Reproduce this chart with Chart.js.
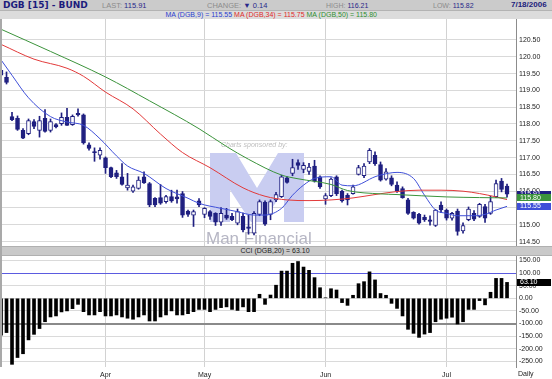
<!DOCTYPE html>
<html>
<head>
<meta charset="utf-8">
<script src="https://cdn.jsdelivr.net/npm/chart.js@4.4.1/dist/chart.umd.min.js"></script>
<style>
  body { margin: 0; width: 552px; height: 379px; background: #fff; overflow: hidden; position: relative; font-family: "Liberation Sans", Arial, sans-serif; }
  .abs { position: absolute; white-space: nowrap; }
  #hdr1 { left: 0; top: 0; width: 552px; height: 11px; background: #cbcbcb; border-bottom: 1px solid #b3b3b3; box-sizing: border-box; }
  #hdr2 { left: 0; top: 11px; width: 552px; height: 8px; background: #dcdcdc; }
  #cciBar { left: 0; top: 246px; width: 552px; height: 10px; background: #c9c9c9; border-top: 1px solid #b0b0b0; border-bottom: 1px solid #b0b0b0; box-sizing: border-box; }
  .lbl { color: #8c8c8c; }
  .val { color: #28288a; }
</style>
</head>
<body>
<div id="hdr1" class="abs"></div>
<div id="hdr2" class="abs"></div>
<div class="abs" style="left:3px;top:0;line-height:11px;font:bold 9px 'DejaVu Sans';color:#1c1c7c">DGB [15] - BUND</div>
<div class="abs" style="left:102px;top:0;line-height:11px;font-size:7.5px"><span class="lbl">LAST:</span> <span class="val">115.91</span></div>
<div class="abs" style="left:207px;top:0;line-height:11px;font-size:7.5px"><span class="lbl">CHANGE:</span> <span class="val">&#9660; 0.14</span></div>
<div class="abs" style="left:326px;top:0;line-height:11px;font-size:7px"><span class="lbl">HIGH:</span> <span class="val">116.21</span></div>
<div class="abs" style="left:433px;top:0;line-height:11px;font-size:7px"><span class="lbl">LOW:</span> <span class="val">115.82</span></div>
<div class="abs" style="left:511px;top:0;line-height:11px;font:bold 8px 'Liberation Sans';color:#1c1c7c">7/18/2006</div>
<div class="abs" style="right:175px;top:11px;line-height:8px;font-size:7px">
  <span style="color:#2b3fd0">MA (DGB,9) = 115.55</span>
  <span style="color:#e02a2a">MA (DGB,34) = 115.75</span>
  <span style="color:#2f8f2f">MA (DGB,50) = 115.80</span>
</div>
<canvas id="priceChart" class="abs" width="552" height="227" style="left:0;top:19px"></canvas>
<div id="cciBar" class="abs"></div>
<div class="abs" style="left:0;width:552px;top:246px;line-height:10px;text-align:center;font-size:7px;color:#222;text-indent:-2px">CCI (DGB,20) = 63.10</div>
<canvas id="cciChart" class="abs" width="552" height="123" style="left:0;top:256px"></canvas>
<div class="abs" style="left:0;top:19px;width:2px;height:348px;background:#a9a9a9"></div>
<div class="abs" style="left:518px;top:370px;font-size:7px;color:#222">Daily</div>

<script>
// daily bars, 8 Mar .. 18 Jul 2006
const opens = [
  119.60, 119.39, 118.22, 118.17, 117.81, 117.71, 118.07, 117.81, 118.17, 117.81,
  117.98, 118.01, 118.20, 117.98, 118.32, 118.27, 117.38, 117.18, 117.07, 116.99,
  116.70, 116.55, 116.43, 116.10, 116.00, 116.08, 116.43, 116.23, 115.79, 115.81,
  115.69, 115.84, 115.83, 115.93, 115.41, 115.29, 115.71, 115.31, 115.39, 115.34,
  115.08, 115.29, 115.25, 115.05, 115.25, 114.94, 114.75, 115.31, 115.67, 115.31,
  115.74, 115.84, 116.40, 116.53, 116.85, 116.65, 116.59, 116.75, 116.43, 115.77,
  115.87, 116.43, 116.00, 115.88, 115.93, 116.50, 116.46, 116.87, 117.07, 116.79,
  116.36, 116.40, 116.18, 116.08, 115.74, 115.37, 115.31, 115.22, 115.15, 114.98,
  115.59, 115.44, 115.20, 115.41, 114.82, 115.15, 115.34, 115.25, 115.54, 115.34,
  115.84, 116.30, 116.15,
];
const highs = [
  119.66, 119.55, 118.35, 118.24, 117.86, 118.15, 118.13, 118.23, 118.43, 118.15,
  118.01, 118.33, 118.47, 118.27, 118.45, 118.30, 117.44, 117.29, 117.29, 117.02,
  116.72, 116.62, 116.82, 116.53, 116.18, 116.43, 116.58, 116.26, 115.81, 116.20,
  115.88, 116.03, 116.03, 115.99, 115.44, 115.44, 115.78, 115.51, 115.42, 115.36,
  115.51, 115.49, 115.34, 115.47, 115.35, 115.28, 115.39, 115.74, 115.71, 115.74,
  115.97, 116.48, 116.43, 116.95, 116.93, 116.85, 116.83, 116.92, 116.46, 115.93,
  116.40, 116.46, 116.03, 115.93, 116.18, 116.77, 116.82, 117.27, 117.17, 116.87,
  116.67, 116.46, 116.28, 116.13, 115.79, 115.39, 115.34, 115.29, 115.27, 115.46,
  115.68, 115.47, 115.37, 115.47, 115.06, 115.53, 115.42, 115.64, 115.61, 115.85,
  116.33, 116.38, 116.21,
];
const lows = [
  119.42, 119.19, 118.10, 117.81, 117.56, 117.68, 117.86, 117.61, 117.76, 117.76,
  117.88, 117.96, 117.96, 117.96, 118.23, 117.40, 117.22, 116.89, 116.95, 116.53,
  116.40, 116.38, 116.18, 116.03, 115.96, 116.06, 116.23, 115.54, 115.54, 115.61,
  115.64, 115.67, 115.64, 115.22, 115.25, 114.95, 115.54, 115.21, 115.16, 114.98,
  114.98, 115.16, 115.12, 115.00, 114.79, 114.72, 114.70, 115.27, 114.98, 115.15,
  115.69, 115.81, 116.24, 116.46, 116.65, 116.55, 116.50, 116.27, 116.08, 115.61,
  115.84, 115.87, 115.67, 115.59, 115.91, 116.48, 116.40, 116.82, 116.77, 116.30,
  116.33, 116.16, 115.96, 115.79, 115.31, 115.17, 115.02, 115.10, 114.99, 114.95,
  115.36, 115.14, 115.14, 114.69, 114.75, 115.12, 115.12, 115.22, 115.07, 115.31,
  115.81, 115.98, 115.82,
];
const closes = [
  119.45, 119.24, 118.13, 117.84, 117.58, 118.10, 117.93, 118.10, 117.78, 118.07,
  117.91, 118.20, 117.96, 118.23, 118.27, 117.44, 117.27, 117.15, 117.22, 116.70,
  116.43, 116.43, 116.20, 116.18, 116.13, 116.33, 116.25, 115.59, 115.59, 115.64,
  115.84, 115.71, 115.77, 115.29, 115.31, 115.39, 115.59, 115.49, 115.25, 115.08,
  115.34, 115.20, 115.15, 115.39, 114.85, 114.89, 115.34, 115.69, 115.02, 115.69,
  115.90, 116.43, 116.26, 116.70, 116.77, 116.77, 116.72, 116.30, 116.13, 115.87,
  116.36, 115.93, 115.71, 115.74, 116.13, 116.70, 116.75, 117.22, 116.82, 116.33,
  116.58, 116.20, 116.00, 115.81, 115.34, 115.20, 115.05, 115.15, 115.10, 115.44,
  115.44, 115.20, 115.34, 114.80, 114.98, 115.47, 115.17, 115.61, 115.20, 115.69,
  116.23, 116.05, 115.91,
];

// moving averages at these bars
const ma9Idx = [0, 2, 5, 9, 12, 15, 18, 21, 23, 26, 30, 34, 36, 40, 43, 46, 48, 51, 53, 55, 57, 60, 62, 64, 68, 69, 72, 75, 77, 79, 81, 83, 86, 88, 90, 92];
const ma9 = [119.91, 119.45, 118.78, 118.22, 118.06, 117.96, 117.56, 117.05, 116.75, 116.53, 116.08, 115.79, 115.64, 115.49, 115.39, 115.29, 115.29, 115.49, 115.88, 116.18, 116.38, 116.43, 116.18, 116.16, 116.43, 116.48, 116.56, 116.38, 115.88, 115.44, 115.34, 115.27, 115.27, 115.31, 115.44, 115.55];
const ma34Idx = [0, 6, 12, 15, 19, 24, 29, 33, 38, 44, 48, 52, 56, 60, 64, 68, 72, 76, 80, 84, 87, 90, 92];
const ma34 = [120.37, 119.93, 119.66, 119.42, 118.95, 118.45, 117.70, 117.15, 116.70, 116.10, 115.85, 115.74, 115.72, 115.74, 115.80, 115.90, 115.99, 116.03, 116.03, 116.00, 115.93, 115.83, 115.75];
const ma50Idx = [0, 9, 19, 27, 36, 41, 45, 51, 54, 60, 63, 69, 72, 81, 87, 92];
const ma50 = [120.82, 120.16, 119.40, 118.69, 117.86, 117.33, 116.95, 116.48, 116.37, 116.20, 116.02, 115.92, 115.90, 115.83, 115.81, 115.80];

// CCI (20)
const cci = [
  -146, -136, -262, -235, -220, -165, -143, -120, -93, -74,
  -70, -54, -50, -41, -24, -53, -66, -66, -53, -70,
  -70, -66, -74, -79, -83, -74, -66, -90, -90, -74,
  -66, -50, -66, -66, -61, -53, -44, -44, -53, -44,
  -37, -34, -44, -48, -34, -53, -53, 16, -24, 13,
  52, 108, 108, 139, 146, 124, 111, 82, 42, 2,
  38, 33, -17, -28, 12, 58, 66, 105, 73, 19,
  12, -20, -40, -70, -123, -139, -155, -142, -136, -93,
  -83, -79, -75, -102, -93, -44, -44, -9, -26, 24,
  79, 79, 63.1,
];

const monthIdx = [19, 37, 59, 81];
const monthLbl = ["Apr", "May", "Jun", "Jul"];
const priceTicks = [114.5, 115, 115.5, 116, 116.5, 117, 117.5, 118, 118.5, 119, 119.5, 120, 120.5];
const cciTicks = [-250, -200, -150, -100, -50, 0, 50, 100, 150];

const NAVY = "#1f1f80";
const BLUE = "#3f4fd8";
const RED = "#e23a3a";
const GREEN = "#3b933b";
const X_MIN = 0.18;
const X_MAX = 93.63;
const tickFont = { family: "Liberation Sans", size: 7 };

function xAxis(showLabels) {
  return {
    type: "linear",
    offset: false,
    min: X_MIN,
    max: X_MAX,
    afterBuildTicks: (s) => {
      s.ticks = monthIdx.map((v) => ({ value: v }));
    },
    afterFit: (s) => {
      s.height = showLabels ? 12 : 0;
      s.paddingLeft = 0;
      s.paddingRight = 0;
    },
    grid: { color: "#d2d2d2", drawTicks: false, offset: false },
    border: { display: false },
    ticks: {
      display: showLabels,
      autoSkip: false,
      maxRotation: 0,
      padding: 4,
      color: "#222",
      font: tickFont,
      callback: (v, k) => monthLbl[k],
    },
  };
}

function yAxis(min, max, tickVals, gridOpts) {
  return {
    position: "right",
    min: min,
    max: max,
    afterBuildTicks: (s) => {
      s.ticks = tickVals.map((v) => ({ value: v }));
    },
    afterFit: (s) => {
      s.width = 36;
      s.paddingTop = 0;
      s.paddingBottom = 0;
    },
    grid: Object.assign({ drawTicks: false, color: "#d9d9d9" }, gridOpts || {}),
    border: { display: true, color: "#8c8c8c" },
    ticks: { padding: 3, color: "#222", font: tickFont, callback: (v) => v.toFixed(2) },
  };
}

// sponsor watermark behind the candles
const watermark = {
  id: "watermark",
  beforeDatasetsDraw(chart) {
    const c = chart.ctx;
    const dy = -19;
    const pts = [[210, 153], [236, 153], [257, 188], [278, 153], [304, 153], [304, 222], [284, 222],
      [284, 190], [263, 222], [251, 222], [230, 190], [230, 222], [210, 222]];
    c.save();
    c.fillStyle = "#c9cdf1";
    c.beginPath();
    pts.forEach(([x, y], k) => (k ? c.lineTo(x, y + dy) : c.moveTo(x, y + dy)));
    c.closePath();
    c.fill();
    c.fillStyle = "#bdbdbd";
    c.font = "italic 7px 'Liberation Sans'";
    c.fillText("Charts sponsored by:", 221, 147 + dy);
    c.fillStyle = "#b6b6c4";
    c.font = "17px 'Liberation Sans'";
    c.fillText("Man Financial", 206, 244 + dy);
    c.restore();
  },
};

function valueBoxes(items) {
  return {
    id: "valueBoxes",
    afterDraw(chart) {
      const c = chart.ctx;
      const ys = chart.scales.y;
      const left = chart.chartArea.right + 1;
      c.save();
      c.font = "7px 'Liberation Sans'";
      c.textBaseline = "middle";
      items.forEach(([v, col]) => {
        const y = ys.getPixelForValue(v);
        c.fillStyle = col;
        c.fillRect(left, Math.round(y - 3.5), 34, 7);
        c.fillStyle = "#fff";
        c.fillText(v.toFixed(2), left + 3, y);
      });
      c.restore();
    },
  };
}

const common = {
  responsive: false,
  animation: false,
  devicePixelRatio: 1,
  events: [],
  plugins: { legend: { display: false }, tooltip: { enabled: false }, title: { display: false } },
};

function maLine(idx, vals, color) {
  return {
    type: "line",
    data: idx.map((x, k) => ({ x: x, y: vals[k] })),
    borderColor: color,
    borderWidth: 1,
    pointRadius: 0,
    cubicInterpolationMode: "monotone",
    order: 0,
  };
}

new Chart(document.getElementById("priceChart"), {
  type: "bar",
  data: {
    datasets: [
      maLine(ma50Idx, ma50, GREEN),
      maLine(ma34Idx, ma34, RED),
      maLine(ma9Idx, ma9, BLUE),
      {
        data: closes.map((c, i) => ({ x: i, y: [opens[i], c] })),
        backgroundColor: closes.map((c, i) => (c >= opens[i] ? "#ffffff" : NAVY)),
        borderColor: NAVY,
        borderWidth: 1,
        borderSkipped: false,
        barThickness: 4,
        minBarLength: 1,
        grouped: false,
        clip: 0,
        order: 1,
      },
      {
        data: lows.map((l, i) => ({ x: i, y: [l, highs[i]] })),
        backgroundColor: NAVY,
        barThickness: 1,
        grouped: false,
        clip: 0,
        order: 2,
      },
    ],
  },
  options: Object.assign({}, common, {
    layout: { padding: { left: 2, right: 0, top: 0, bottom: 0 } },
    scales: { x: xAxis(false), y: yAxis(114.369, 121.125, priceTicks) },
  }),
  plugins: [watermark, valueBoxes([[closes[closes.length - 1], NAVY], [ma50[ma50.length - 1], GREEN], [ma9[ma9.length - 1], BLUE]])],
});

new Chart(document.getElementById("cciChart"), {
  type: "bar",
  data: {
    datasets: [
      {
        data: cci.map((v, i) => ({ x: i, y: v })),
        backgroundColor: "#000",
        barThickness: 3,
        grouped: false,
        clip: 0,
      },
    ],
  },
  options: Object.assign({}, common, {
    layout: { padding: { left: 2, right: 0, top: 0, bottom: 0 } },
    scales: {
      x: xAxis(true),
      y: yAxis(-272.6, 167.9, cciTicks, {
        color: (ctx) => (ctx.tick && ctx.tick.value === 100 ? "#5b5be0" : ctx.tick && ctx.tick.value === -100 ? "#8a8a8a" : "#dadada"),
        lineWidth: (ctx) => (ctx.tick && ctx.tick.value === -100 ? 2 : 1),
      }),
    },
  }),
  plugins: [valueBoxes([[cci[cci.length - 1], "#000"]])],
});
</script>
</body>
</html>
